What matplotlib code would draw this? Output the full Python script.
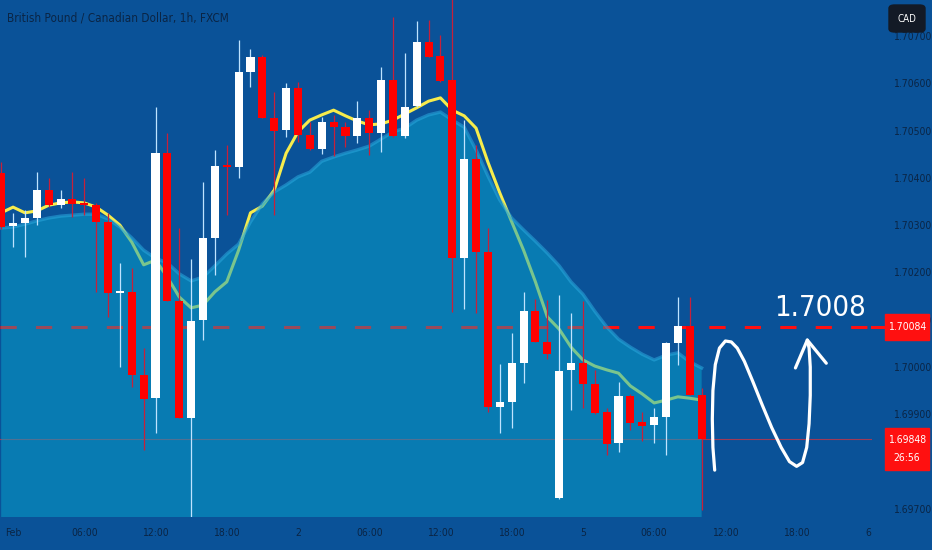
import matplotlib
matplotlib.use("Agg")
import matplotlib.pyplot as plt
from matplotlib import font_manager
from matplotlib.patches import Rectangle, FancyBboxPatch
from matplotlib.lines import Line2D

# hourly GBPCAD candles, bar 0 = Feb 1 00:00
bars = list(range(-1, 59))
opens = [1.70410, 1.70298, 1.70304, 1.70315, 1.70374, 1.70342, 1.70355, 1.70347, 1.70342, 1.70307,
         1.70156, 1.70159, 1.69983, 1.69934, 1.70452, 1.70140, 1.69892, 1.70099, 1.70273, 1.70427,
         1.70423, 1.70624, 1.70655, 1.70526, 1.70501, 1.70590, 1.70490, 1.70461, 1.70518, 1.70507,
         1.70488, 1.70526, 1.70495, 1.70607, 1.70488, 1.70552, 1.70687, 1.70657, 1.70607, 1.70230,
         1.70440, 1.70243, 1.69915, 1.69926, 1.70008, 1.70118, 1.70053, 1.69723, 1.69994, 1.70008,
         1.69964, 1.69905, 1.69839, 1.69939, 1.69884, 1.69877, 1.69894, 1.70051, 1.70087, 1.69941]
highs = [1.70433, 1.70326, 1.70332, 1.70412, 1.70400, 1.70374, 1.70412, 1.70400, 1.70347, 1.70326,
         1.70220, 1.70209, 1.70040, 1.70550, 1.70495, 1.70294, 1.70228, 1.70391, 1.70459, 1.70469,
         1.70691, 1.70672, 1.70660, 1.70581, 1.70600, 1.70602, 1.70518, 1.70529, 1.70533, 1.70518,
         1.70562, 1.70543, 1.70634, 1.70740, 1.70664, 1.70731, 1.70734, 1.70702, 1.70790, 1.70522,
         1.70469, 1.70294, 1.70006, 1.70072, 1.70159, 1.70144, 1.70142, 1.70152, 1.70114, 1.70140,
         1.69994, 1.69913, 1.69968, 1.69942, 1.69905, 1.69913, 1.70053, 1.70148, 1.70148, 1.69956]
lows = [1.70292, 1.70254, 1.70233, 1.70300, 1.70338, 1.70336, 1.70317, 1.70321, 1.70159, 1.70106,
        1.70000, 1.69958, 1.69825, 1.69860, 1.70140, 1.69892, 1.69680, 1.70057, 1.70194, 1.70321,
        1.70400, 1.70592, 1.70526, 1.70321, 1.70486, 1.70476, 1.70458, 1.70450, 1.70446, 1.70465,
        1.70474, 1.70448, 1.70455, 1.70486, 1.70484, 1.70550, 1.70655, 1.70602, 1.70116, 1.70123,
        1.70114, 1.69905, 1.69860, 1.69871, 1.69966, 1.70053, 1.70017, 1.69720, 1.69909, 1.69913,
        1.69900, 1.69814, 1.69820, 1.69867, 1.69844, 1.69839, 1.69814, 1.70004, 1.69941, 1.69698]
closes = [1.70296, 1.70304, 1.70315, 1.70374, 1.70342, 1.70355, 1.70345, 1.70342, 1.70307, 1.70156,
          1.70161, 1.69983, 1.69932, 1.70452, 1.70140, 1.69892, 1.70097, 1.70273, 1.70425, 1.70423,
          1.70624, 1.70655, 1.70526, 1.70499, 1.70590, 1.70490, 1.70461, 1.70518, 1.70507, 1.70488,
          1.70526, 1.70495, 1.70607, 1.70488, 1.70550, 1.70687, 1.70655, 1.70605, 1.70230, 1.70440,
          1.70243, 1.69915, 1.69926, 1.70008, 1.70118, 1.70053, 1.70027, 1.69992, 1.70008, 1.69964,
          1.69903, 1.69837, 1.69939, 1.69882, 1.69875, 1.69894, 1.70051, 1.70087, 1.69941, 1.69848]

# moving average (yellow) and the shaded band top
ma_line = [1.70326, 1.70338, 1.70326, 1.70330, 1.70342, 1.70347, 1.70349, 1.70347, 1.70338, 1.70321,
           1.70300, 1.70264, 1.70216, 1.70226, 1.70190, 1.70148, 1.70125, 1.70131, 1.70159, 1.70180,
           1.70247, 1.70326, 1.70340, 1.70374, 1.70452, 1.70497, 1.70522, 1.70533, 1.70543, 1.70531,
           1.70520, 1.70512, 1.70514, 1.70522, 1.70535, 1.70548, 1.70562, 1.70569, 1.70543, 1.70531,
           1.70505, 1.70433, 1.70368, 1.70307, 1.70247, 1.70180, 1.70106, 1.70080, 1.70042, 1.70015,
           1.70002, 1.69994, 1.69987, 1.69960, 1.69943, 1.69924, 1.69930, 1.69937, 1.69934, 1.69930]
band_top = [1.70294, 1.70296, 1.70302, 1.70309, 1.70315, 1.70319, 1.70321, 1.70323, 1.70323, 1.70313,
            1.70296, 1.70273, 1.70247, 1.70230, 1.70220, 1.70197, 1.70182, 1.70190, 1.70214, 1.70239,
            1.70260, 1.70307, 1.70345, 1.70370, 1.70385, 1.70402, 1.70412, 1.70435, 1.70444, 1.70452,
            1.70459, 1.70467, 1.70482, 1.70497, 1.70505, 1.70522, 1.70533, 1.70539, 1.70522, 1.70507,
            1.70459, 1.70404, 1.70353, 1.70315, 1.70290, 1.70266, 1.70241, 1.70214, 1.70180, 1.70154,
            1.70118, 1.70085, 1.70059, 1.70042, 1.70027, 1.70015, 1.70025, 1.70030, 1.70011, 1.69998]

level = 1.70084
last_price = 1.69848
price_ticks = [1.697, 1.699, 1.700, 1.701, 1.702, 1.703, 1.704, 1.705, 1.706, 1.707]
time_ticks = [0, 6, 12, 18, 24, 30, 36, 42, 48, 54, 60, 66, 72]
time_labels = ["Feb", "06:00", "12:00", "18:00", "2", "06:00", "12:00", "18:00",
               "5", "06:00", "12:00", "18:00", "6"]

# hand-drawn "N" path and arrow head (bar, price)
sketch_x = [59.1, 58.95, 58.9, 58.95, 59.15, 59.5, 60.0, 60.5, 61.0, 61.6, 62.3, 63.1, 63.9,
            64.7, 65.4, 66.0, 66.5, 66.85, 67.05, 67.15, 67.15, 67.05, 66.9]
sketch_y = [1.69782, 1.69830, 1.69890, 1.69950, 1.70005, 1.70040, 1.70055, 1.70053, 1.70040,
            1.70012, 1.69970, 1.69920, 1.69872, 1.69830, 1.69800, 1.69790, 1.69798, 1.69830,
            1.69880, 1.69940, 1.70000, 1.70040, 1.70057]
head_x = [65.9, 66.9, 68.5]
head_y = [1.69998, 1.70057, 1.70008]

BG = "#0a5298"
AREA = "#08a2ca"
TXT = "#0b2545"
RED = "#ff1010"

has_cond = any(f.name == "DejaVu Sans" and f.stretch == "condensed"
               for f in font_manager.fontManager.ttflist)
NARROW = dict(family="DejaVu Sans", stretch="condensed") if has_cond else dict(family="Roboto")

W, H = 932, 550
fig = plt.figure(figsize=(W / 100, H / 100), dpi=100, facecolor=BG)
ax = fig.add_axes([0, 33 / H, 872 / W, 517 / H], facecolor=BG)
ax.set_xlim(-1.1, 72.35)
ax.set_ylim(1.696829, 1.707759)
for s in ax.spines.values():
    s.set_visible(False)

# lines under the translucent band
ax.plot([-1.1, 72.35], [level, level], color=RED, lw=2.2, dashes=(5.3, 6.3), zorder=1)
ax.axhline(last_price, color="#e0303a", lw=0.8, alpha=0.7, zorder=1)
ax.plot(bars, ma_line, color="#f7ec4c", lw=2.2, zorder=1.5, solid_joinstyle="round")

ax.fill_between(bars, band_top, 1.69, color=AREA, alpha=0.52, lw=0, zorder=3)
ax.plot(bars, band_top, color="#2aa8dd", lw=2.4, alpha=0.55, zorder=3.1)
# a faint second pass so the level keeps some red inside the band
ax.plot([-1.1, 72.35], [level, level], color=RED, lw=2.2, dashes=(5.3, 6.3), alpha=0.22,
        zorder=3.2)

# candles
up = [c >= o for o, c in zip(opens, closes)]
body_col = ["#ffffff" if u else "#ff0000" for u in up]
wick_col = ["#bfe3ff" if u else "#c8203a" for u in up]
ax.vlines(bars, lows, highs, colors=wick_col, lw=0.9, zorder=4)
bottoms = [min(o, c) for o, c in zip(opens, closes)]
heights = [max(abs(c - o), 0.00003) for o, c in zip(opens, closes)]
ax.bar(bars, heights, bottom=bottoms, width=0.68, color=body_col, lw=0, zorder=5)

# sketch
ax.plot(sketch_x, sketch_y, color="white", lw=2.3, solid_capstyle="round",
        solid_joinstyle="round", zorder=6)
ax.plot(head_x, head_y, color="white", lw=2.3, solid_capstyle="round",
        solid_joinstyle="round", zorder=6)
ax.text(68.0, 1.70125, "1.7008", color="white", fontsize=21, ha="center", va="center",
        zorder=6, **NARROW)

# axes ticks
ax.yaxis.tick_right()
ax.set_yticks(price_ticks)
ax.set_yticklabels(["%.5f" % p for p in price_ticks])
ax.set_xticks(time_ticks)
ax.set_xticklabels(time_labels)
ax.tick_params(axis="y", length=0, pad=15, labelsize=7.5, labelcolor=TXT)
ax.tick_params(axis="x", length=0, pad=8, labelsize=7.5, labelcolor=TXT)
for lab in ax.get_xticklabels() + ax.get_yticklabels():
    lab.set_family(NARROW["family"])
    if has_cond:
        lab.set_fontstretch("condensed")

fig.text(7 / W, 1 - 18 / H, "British Pound / Canadian Dollar, 1h, FXCM", color=TXT,
         fontsize=8.5, va="center", ha="left", **NARROW)


def px(x, y):
    return x / W, 1 - y / H


# red price tags on the scale
fig.add_artist(Line2D([872 / W, 886 / W], [1 - 327 / H] * 2, color=RED, lw=2.2))
x0, y0 = px(885, 340)
fig.add_artist(Rectangle((x0, y0), 44 / W, 26 / H, color=RED, transform=fig.transFigure))
fig.text(*px(907, 327), "1.70084", color="white", fontsize=7.5, ha="center", va="center",
         **NARROW)
x0, y0 = px(885, 470)
fig.add_artist(Rectangle((x0, y0), 44 / W, 42 / H, color=RED, transform=fig.transFigure))
fig.text(*px(907, 440), "1.69848", color="white", fontsize=7.5, ha="center", va="center",
         **NARROW)
fig.text(*px(907, 458), "26:56", color="white", fontsize=7.5, ha="center", va="center",
         **NARROW)

x0, y0 = px(889, 32)
fig.add_artist(FancyBboxPatch((x0, y0), 36 / W, 27 / H, boxstyle="round,pad=0,rounding_size=0.006",
                              color="#131a26", transform=fig.transFigure))
fig.text(*px(907, 18.5), "CAD", color="white", fontsize=7, ha="center", va="center", **NARROW)

fig.savefig("out.png", dpi=100, facecolor=BG)
